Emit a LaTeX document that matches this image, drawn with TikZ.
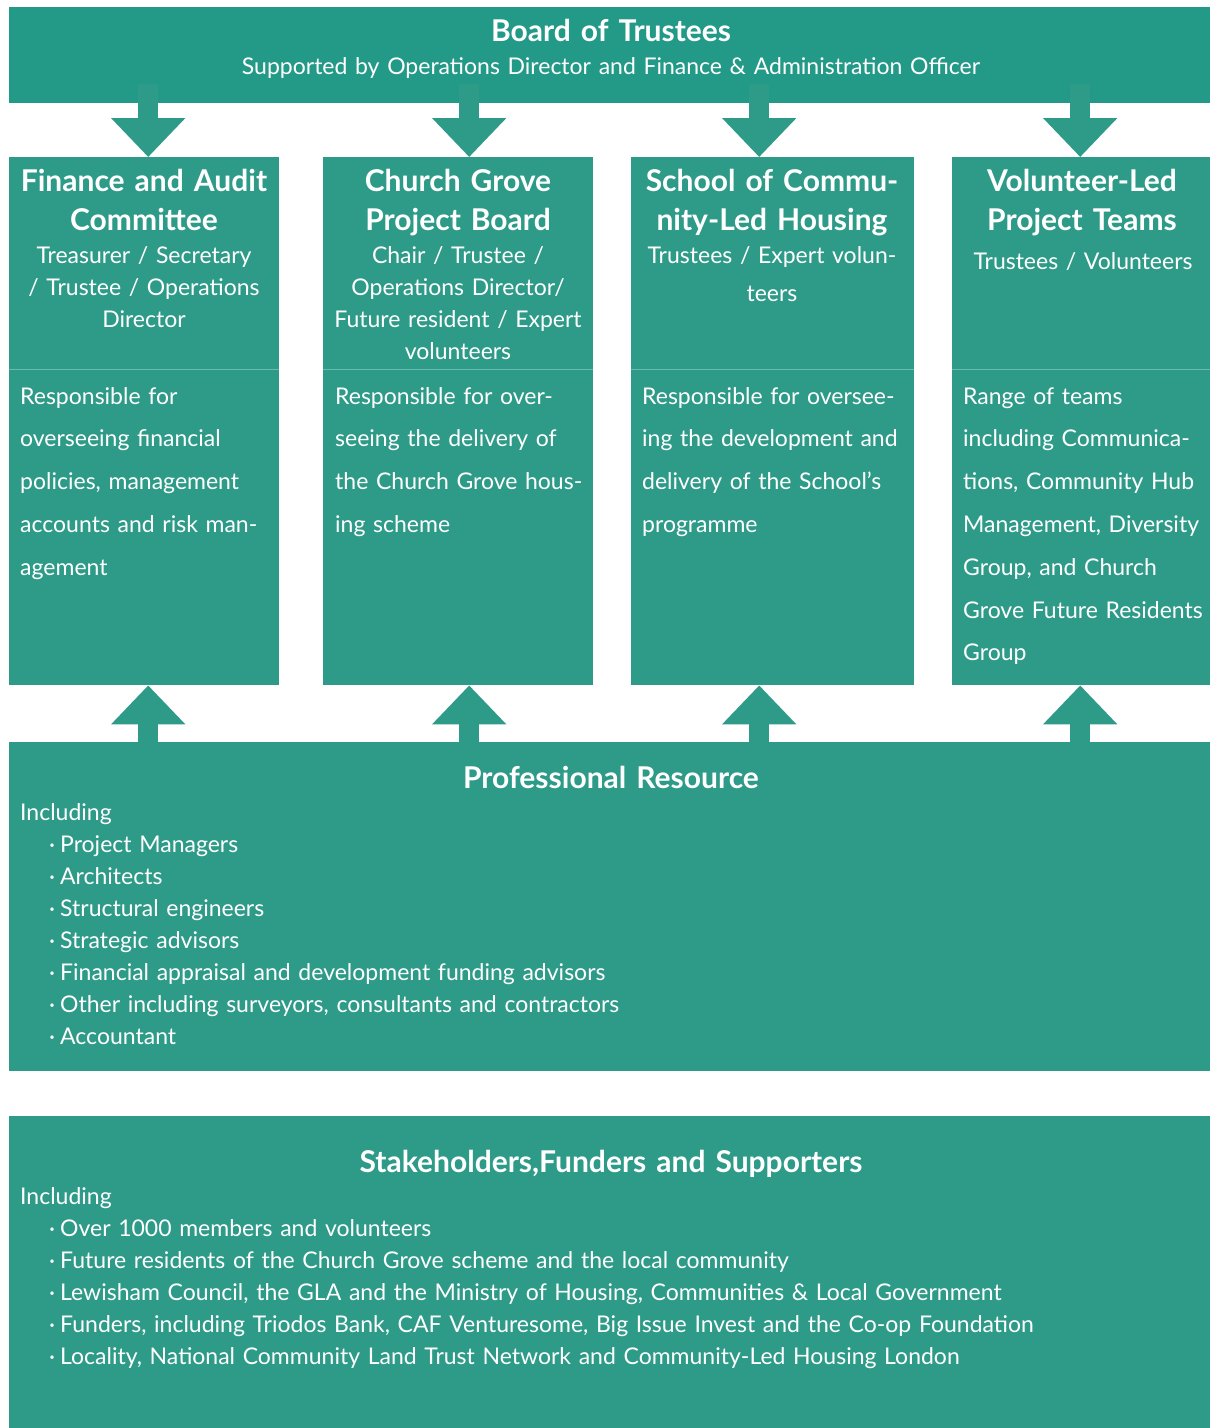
\documentclass[tikz,border=0pt]{standalone}
\usepackage{fontspec}
\setmainfont{Lato}
\usetikzlibrary{arrows.meta,positioning}
\definecolor{boardteal}{RGB}{35,154,136}
\definecolor{panelteal}{RGB}{46,155,137}
\definecolor{ruleteal}{RGB}{105,188,173}
\tikzset{
	panel/.style={fill=panelteal, inner sep=0pt, anchor=north west},
	heading/.style={text=white, inner sep=0pt, anchor=base, align=center, text width=300pt, font=\bfseries\fontsize{30}{39}\selectfont},
	members/.style={text=white, inner sep=0pt, anchor=base, align=center, text width=300pt, font=\fontsize{23}{32}\selectfont},
	remit/.style={text=white, inner sep=0pt, anchor=base west, align=left, text width=280pt, font=\fontsize{23}{42.8}\selectfont},
	listing/.style={text=white, inner sep=0pt, anchor=base west, align=left, text width=1150pt, font=\fontsize{23}{32}\selectfont},
	feed/.style={draw=panelteal, line width=20pt, -{Triangle[width=72pt,length=39pt]}},
}
\begin{document}
\begin{tikzpicture}[x=1pt, y=-1pt]
	\useasboundingbox (0,0) rectangle (1210,1428);
	\fill[white] (0,0) rectangle (1210,1428);
	% board
	\node[panel, fill=boardteal, minimum width=1201pt, minimum height=96pt] (board) at (9,7) {};
	\node[heading, text width=600pt] (boardtitle) at (611,41) {Board of Trustees};
	\node[members, text width=900pt] (boardsub) at (611,74) {Supported by Operations Director and Finance \& Administration Officer};

	% columns: head and remit
	\node[panel, minimum width=270pt, minimum height=212pt] (finhead) at (9,157) {};
	\node[panel, minimum width=270pt, minimum height=316pt] (finbody) at (9,369) {};
	\node[panel, minimum width=270pt, minimum height=212pt] (cghead) at (323,157) {};
	\node[panel, minimum width=270pt, minimum height=316pt] (cgbody) at (323,369) {};
	\node[panel, minimum width=283pt, minimum height=212pt] (schead) at (631,157) {};
	\node[panel, minimum width=283pt, minimum height=316pt] (scbody) at (631,369) {};
	\node[panel, minimum width=258pt, minimum height=212pt] (vlhead) at (952,157) {};
	\node[panel, minimum width=258pt, minimum height=316pt] (vlbody) at (952,369) {};
	\foreach \b in {finbody,cgbody,scbody,vlbody}
		\draw[ruleteal, line width=0.8pt] (\b.north west) -- (\b.north east);

	\node[heading] (fintitle) at (144,191) {Finance and Audit\\Committee};
	\node[members] (finwho) at (144,263) {Treasurer / Secretary\\/ Trustee / Operations\\Director};
	\node[remit] (fintext) at (20,404) {Responsible for\\overseeing financial\\policies, management\\accounts and risk man-\\agement};

	\node[heading] (cgtitle) at (458,191) {Church Grove\\Project Board};
	\node[members] (cgwho) at (458,263) {Chair / Trustee /\\Operations Director/\\Future resident / Expert\\volunteers};
	\node[remit] (cgtext) at (335,404) {Responsible for over-\\seeing the delivery of\\the Church Grove hous-\\ing scheme};

	\node[heading] (sctitle) at (772,191) {School of Commu-\\nity-Led Housing};
	\node[members] (scwho) at (772,263) {Trustees / Expert volun-\\[6pt]teers};
	\node[remit] (sctext) at (642,404) {Responsible for oversee-\\ing the development and\\delivery of the School’s\\programme};

	\node[heading] (vltitle) at (1082,191) {Volunteer-Led\\Project Teams};
	\node[members] (vlwho) at (1083,269) {Trustees / Volunteers};
	\node[remit] (vltext) at (963,404) {Range of teams\\including Communica-\\tions, Community Hub\\Management, Diversity\\Group, and Church\\Grove Future Residents\\Group};

	% professional resource and stakeholders
	\node[panel, minimum width=1201pt, minimum height=329pt] (prof) at (9,742) {};
	\node[heading, text width=600pt] (proftitle) at (611,788) {Professional Resource};
	\node[listing] (proflist) at (20,820) {Including\\
		\hspace*{29pt}·\hspace{5pt}Project Managers\\
		\hspace*{29pt}·\hspace{5pt}Architects\\
		\hspace*{29pt}·\hspace{5pt}Structural engineers\\
		\hspace*{29pt}·\hspace{5pt}Strategic advisors\\
		\hspace*{29pt}·\hspace{5pt}Financial appraisal and development funding advisors\\
		\hspace*{29pt}·\hspace{5pt}Other including surveyors, consultants and contractors\\
		\hspace*{29pt}·\hspace{5pt}Accountant};

	\node[panel, minimum width=1201pt, minimum height=312pt] (stake) at (9,1116) {};
	\node[heading, text width=800pt] (staketitle) at (611,1172) {Stakeholders,Funders and Supporters};
	\node[listing] (stakelist) at (20,1204) {Including\\
		\hspace*{29pt}·\hspace{5pt}Over 1000 members and volunteers\\
		\hspace*{29pt}·\hspace{5pt}Future residents of the Church Grove scheme and the local community\\
		\hspace*{29pt}·\hspace{5pt}Lewisham Council, the GLA and the Ministry of Housing, Communities \& Local Government\\
		\hspace*{29pt}·\hspace{5pt}Funders, including Triodos Bank, CAF Venturesome, Big Issue Invest and the Co-op Foundation\\
		\hspace*{29pt}·\hspace{5pt}Locality, National Community Land Trust Network and Community-Led Housing London};

	% arrows
	\draw[feed] ([xshift=4pt,yshift=19pt]board.south -| finhead.north) -- ([xshift=4pt]finhead.north);
	\draw[feed] ([xshift=11pt,yshift=19pt]board.south -| cghead.north) -- ([xshift=11pt]cghead.north);
	\draw[feed] ([xshift=-13.5pt,yshift=19pt]board.south -| schead.north) -- ([xshift=-13.5pt]schead.north);
	\draw[feed] ([xshift=-1pt,yshift=19pt]board.south -| vlhead.north) -- ([xshift=-1pt]vlhead.north);
	\draw[feed] ([xshift=4pt]prof.north -| finbody.south) -- ([xshift=4pt]finbody.south);
	\draw[feed] ([xshift=11pt]prof.north -| cgbody.south) -- ([xshift=11pt]cgbody.south);
	\draw[feed] ([xshift=-13.5pt]prof.north -| scbody.south) -- ([xshift=-13.5pt]scbody.south);
	\draw[feed] ([xshift=-1pt]prof.north -| vlbody.south) -- ([xshift=-1pt]vlbody.south);
\end{tikzpicture}
\end{document}
